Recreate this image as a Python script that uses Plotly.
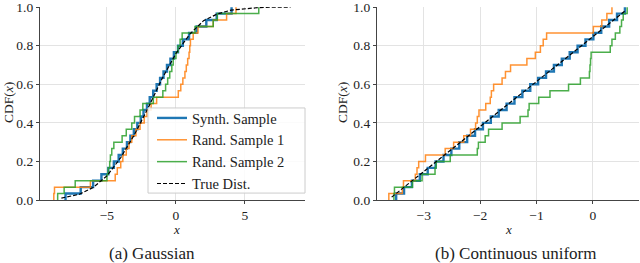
import plotly.graph_objects as go

# ---------------- data ----------------
# Gaussian panel: sorted sample values (30 samples each)
gauss_synth = [-8.0, -6.9, -6.0, -5.4, -4.9, -4.5, -4.15, -3.85, -3.55, -3.3,
               -3.05, -2.8, -2.55, -2.35, -2.1, -1.9, -1.65, -1.4, -1.15, -0.9,
               -0.65, -0.4, -0.15, 0.15, 0.5, 0.95, 1.5, 2.2, 2.95, 4.03]
gauss_rand1 = [-8.85, -8.8, -6.2, -4.4, -4.25, -4.0, -3.85, -3.6, -3.4, -3.2,
               -2.9, -2.6, -2.3, -2.1, -1.8, -1.4, 0.17, 0.35, 0.5, 0.65,
               0.75, 0.85, 0.95, 1.0, 1.05, 1.25, 1.6, 2.7, 3.67, 4.35]
gauss_rand2 = [-8.57, -8.1, -7.3, -5.0, -4.9, -4.8, -4.75, -4.65, -4.5, -3.9,
               -3.6, -3.2, -3.0, -2.6, -2.4, -1.64, -0.95, -0.75, -0.6, -0.45,
               -0.3, -0.2, 0.0, 0.15, 0.3, 0.45, 1.38, 2.7, 3.0, 6.0]
gauss_true_x = [-8.3, -7.0, -6.0, -5.0, -4.0, -3.0, -2.0, -1.0, 0.0, 1.0,
                2.0, 3.0, 4.0, 5.0, 6.0, 7.0, 8.3]
gauss_true_y = [0.01, 0.03, 0.065, 0.125, 0.22, 0.34, 0.48, 0.63, 0.76, 0.86,
                0.93, 0.965, 0.985, 0.993, 0.998, 1.0, 1.0]

# Continuous-uniform panel
unif_synth = [-3.49, -3.35, -3.21, -3.07, -2.93, -2.79, -2.65, -2.51, -2.37, -2.23,
              -2.09, -1.95, -1.81, -1.67, -1.53, -1.39, -1.25, -1.11, -0.97, -0.83,
              -0.69, -0.55, -0.41, -0.27, -0.13, 0.01, 0.15, 0.29, 0.43, 0.57]
unif_rand1 = [-3.62, -3.38, -3.36, -3.15, -3.12, -3.09, -2.97, -2.62, -2.47, -2.29,
              -2.17, -2.08, -2.05, -2.02, -1.9, -1.82, -1.8, -1.76, -1.61, -1.55,
              -1.46, -1.17, -1.02, -0.93, -0.88, -0.82, 0.01, 0.16, 0.25, 0.34]
unif_rand2 = [-3.53, -3.52, -3.2, -3.03, -2.8, -2.78, -2.53, -2.05, -2.03, -1.91,
              -1.85, -1.61, -1.29, -1.15, -1.13, -0.96, -0.76, -0.43, -0.22, -0.06,
              -0.05, -0.04, -0.03, 0.31, 0.34, 0.4, 0.48, 0.51, 0.54, 0.61]
unif_true_x = [-3.57, 0.57]
unif_true_y = [0.015, 0.98]

series_names = ["Synth. Sample", "Rand. Sample 1", "Rand. Sample 2", "True Dist."]
captions = ["(a) Gaussian", "(b) Continuous uniform"]
y_ticks = [0.0, 0.2, 0.4, 0.6, 0.8, 1.0]
gauss_xticks = [-5, 0, 5]
unif_xticks = [-3, -2, -1, 0]

# ---------------- styling ----------------
BLUE = "#1f77b4"
ORANGE = "rgba(255,127,14,0.85)"
GREEN = "rgba(44,160,44,0.85)"
FONT = "Liberation Serif"
GRID = "#e3e3e3"
TXT = "#222"


def ecdf(xs):
    n = len(xs)
    return [xs[0]] + list(xs), [0.0] + [(i + 1) / n for i in range(n)]


fig = go.Figure()

panels = [
    ("x", "y", gauss_synth, gauss_rand1, gauss_rand2, gauss_true_x, gauss_true_y, True),
    ("x2", "y2", unif_synth, unif_rand1, unif_rand2, unif_true_x, unif_true_y, False),
]
for xa, ya, s, r1, r2, tx, ty, show in panels:
    for vals, name, col, w in [(s, series_names[0], BLUE, 2.4),
                               (r1, series_names[1], ORANGE, 1.5),
                               (r2, series_names[2], GREEN, 1.5)]:
        ex, ey = ecdf(vals)
        fig.add_trace(go.Scatter(x=ex, y=ey, mode="lines", line=dict(color=col, width=w, shape="hv"),
                                 name=name, xaxis=xa, yaxis=ya, showlegend=show))
    fig.add_trace(go.Scatter(x=tx, y=ty, mode="lines", line=dict(color="black", width=1.2, dash="4px,2px"),
                             name=series_names[3], xaxis=xa, yaxis=ya, showlegend=show))

W, H = 640, 263
ML, MR, MT, MB = 0, 0, 5, 63
PH = H - MT - MB  # plot height in px


def py(pix):
    return (H - MB - pix) / PH


axis_common = dict(showgrid=True, gridcolor=GRID, gridwidth=1, zeroline=False,
                   showline=True, linecolor="#444", linewidth=1.2,
                   ticks="outside", ticklen=3, tickcolor="#444",
                   ticklabeloverflow="allow",
                   tickfont=dict(family=FONT, size=13.5, color=TXT))

fig.update_layout(
    width=W, height=H, margin=dict(l=ML, r=MR, t=MT, b=MB),
    plot_bgcolor="white", paper_bgcolor="white",
    font=dict(family=FONT, size=13, color=TXT),
    xaxis=dict(domain=[40 / W, 305 / W], range=[-9.85, 9.35], tickvals=gauss_xticks,
               ticktext=["\u22125", "0", "5"], anchor="y", **axis_common),
    yaxis=dict(domain=[0, 1], range=[0, 1.001], tickvals=y_ticks,
               ticktext=[f"{v:.1f}" for v in y_ticks], anchor="x", **axis_common),
    xaxis2=dict(domain=[377 / W, 639 / W], range=[-3.83, 0.82], tickvals=unif_xticks,
                ticktext=["\u22123", "\u22122", "\u22121", "0"], anchor="y2", **axis_common),
    yaxis2=dict(domain=[0, 1], range=[0, 1.001], tickvals=y_ticks,
                ticktext=[f"{v:.1f}" for v in y_ticks], anchor="x2", **axis_common),
    legend=dict(x=152 / W, xanchor="left", y=py(101), yanchor="top",
                xref="paper", yref="paper",
                bgcolor="rgba(0,0,0,0)", borderwidth=0,
                font=dict(family=FONT, size=14.5, color=TXT), tracegroupgap=0,
                itemwidth=30),
    showlegend=True,
)

# legend frame (drawn behind the legend, above the data)
fig.add_shape(type="rect", xref="paper", yref="paper",
              x0=148 / W, x1=305 / W, y0=py(193), y1=py(107),
              fillcolor="rgba(255,255,255,0.85)", line=dict(color="#cccccc", width=1),
              layer="above")

annotations = [
    dict(text="CDF(<i>x</i>)", x=8 / W, y=py(102), textangle=-90),
    dict(text="CDF(<i>x</i>)", x=342 / W, y=py(102), textangle=-90),
    dict(text="<i>x</i>", x=176 / W, y=py(230), size=13),
    dict(text="<i>x</i>", x=508 / W, y=py(230), size=13),
    dict(text=captions[0], x=152 / W, y=py(254), size=17),
    dict(text=captions[1], x=516 / W, y=py(254), size=17),
]
for a in annotations:
    fig.add_annotation(text=a["text"], x=a["x"], y=a["y"], xref="paper", yref="paper",
                       showarrow=False, textangle=a.get("textangle", 0),
                       xanchor="center", yanchor="middle",
                       font=dict(family=FONT, size=a.get("size", 13.5), color=TXT))

fig.write_html("out.html", config={"displayModeBar": False},
               post_script="document.body.style.margin='0px';")
